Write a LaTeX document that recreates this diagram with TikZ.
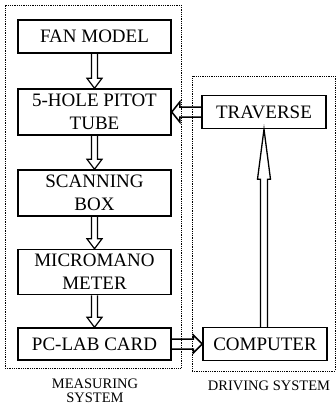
\documentclass[tikz,border=0pt]{standalone}
\usepackage{fontspec}
\setmainfont{Liberation Serif}
\usetikzlibrary{calc}
\newcommand\hollowarrow[5]{%
  \coordinate (hb) at ($(#2)!#5!(#1)$);
  \draw[harrow] ($(#1)!#3!90:(#2)$) -- ($(hb)!#3!90:(#2)$) -- ($(hb)!#4!90:(#2)$) -- (#2)
    -- ($(hb)!#4!-90:(#2)$) -- ($(hb)!#3!-90:(#2)$) -- ($(#1)!#3!-90:(#2)$);
}
\begin{document}
\begin{tikzpicture}[x=1pt,y=-1pt,
  blockbox/.style={draw,line width=1.5pt,inner sep=0pt,align=center,
    font=\fontsize{19}{23}\selectfont},
  lbox/.style={blockbox,minimum width=153pt},
  rbox/.style={blockbox,minimum width=124pt,minimum height=33pt},
  groupbox/.style={draw,densely dotted,line width=0.8pt,inner sep=0pt},
  grouplabel/.style={align=center,inner sep=0pt,font=\fontsize{14.5}{14}\selectfont},
  harrow/.style={draw,line width=1.2pt,line join=miter},
  bigarrow/.style={harrow,line width=1.5pt}]
\useasboundingbox (0,0) rectangle (336,408);
% group boxes
\node[groupbox,minimum width=176pt,minimum height=363pt] (meas) at (93,186.5) {};
\node[groupbox,minimum width=143pt,minimum height=295pt] (drive) at (263.5,223.5) {};
% blocks
\node[lbox,minimum height=33pt] (fan) at (94.5,36.5) {FAN MODEL};
\node[lbox,minimum height=46pt] (pitot) at (94.5,112) {5-HOLE PITOT\\TUBE};
\node[lbox,minimum height=46pt] (scan) at (94.5,193) {SCANNING\\BOX};
\node[lbox,minimum height=45pt] (micro) at (94.5,272) {MICROMANO\\METER};
\node[lbox,minimum height=32pt] (pclab) at (94.5,344) {PC-LAB CARD};
\node[rbox] (trav) at (264,112) {TRAVERSE};
\node[rbox] (comp) at (265,344) {COMPUTER};
% labels
\node[grouplabel] (mlab) at (95,391) {MEASURING\\SYSTEM};
\node[grouplabel] (dlab) at (269,386) {DRIVING SYSTEM};
% arrows
\hollowarrow{fan.south}{pitot.north}{3pt}{7.5pt}{10pt}
\hollowarrow{pitot.south}{scan.north}{3pt}{7.5pt}{10pt}
\hollowarrow{scan.south}{micro.north}{3pt}{7.5pt}{10pt}
\hollowarrow{micro.south}{pclab.north}{3pt}{7.5pt}{10pt}
\begin{scope}[harrow/.style={draw,line width=1.5pt,line join=miter}]
\hollowarrow{trav.west}{pitot.east}{5pt}{10pt}{8pt}
\hollowarrow{pclab.east}{comp.west}{5pt}{9pt}{9pt}
\end{scope}
\begin{scope}[harrow/.style={draw,line width=1.3pt,line join=miter}]
\coordinate (cst) at (comp.north -| trav.south);
\hollowarrow{cst}{trav.south}{3.5pt}{6.5pt}{50pt}
\end{scope}
\end{tikzpicture}
\end{document}
